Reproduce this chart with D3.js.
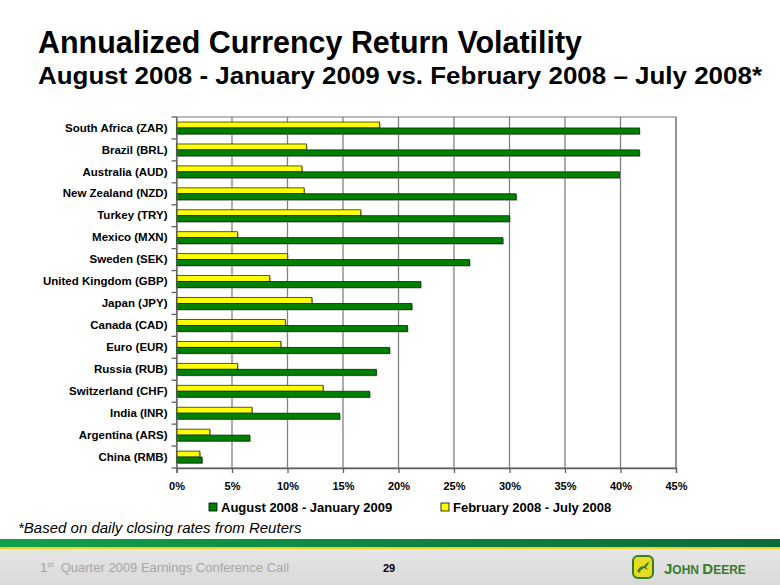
<!DOCTYPE html>
<html><head><meta charset="utf-8">
<script src="https://cdn.jsdelivr.net/npm/d3@7"></script>
<style>
html,body{margin:0;padding:0;background:#fff;}
svg{display:block;}
</style></head>
<body>
<svg id="chart" width="780" height="585"></svg>
<script>
const categories = ["South Africa (ZAR)","Brazil (BRL)","Australia (AUD)","New Zealand (NZD)","Turkey (TRY)","Mexico (MXN)","Sweden (SEK)","United Kingdom (GBP)","Japan (JPY)","Canada (CAD)","Euro (EUR)","Russia (RUB)","Switzerland (CHF)","India (INR)","Argentina (ARS)","China (RMB)"];
const augJan = [41.7,41.7,39.9,30.6,30.0,29.4,26.4,22.0,21.2,20.8,19.2,18.0,17.4,14.7,6.6,2.3];
const febJul = [18.3,11.7,11.3,11.5,16.6,5.5,10.0,8.4,12.2,9.8,9.4,5.5,13.2,6.8,3.0,2.1];
const seriesNames = ["August 2008 - January 2009","February 2008 - July 2008"];
const xTicks = [0,5,10,15,20,25,30,35,40,45];

(function(){
const svg = d3.select("#chart");
const sans = "'Liberation Sans',Arial,Helvetica,sans-serif";

// Title
svg.append("text").attr("x",38).attr("y",53).attr("font-family",sans).attr("font-weight","bold")
  .attr("font-size",31).attr("fill","#000").attr("textLength",544).attr("lengthAdjust","spacingAndGlyphs")
  .text("Annualized Currency Return Volatility");
svg.append("text").attr("x",38).attr("y",83.5).attr("font-family",sans).attr("font-weight","bold")
  .attr("font-size",24.5).attr("fill","#000").attr("textLength",724).attr("lengthAdjust","spacingAndGlyphs")
  .text("August 2008 - January 2009 vs. February 2008 \u2013 July 2008*");

// Scales
const pL=176.5, pR=676, pT=117, pB=468;
const x = d3.scaleLinear().domain([0,45]).range([pL,pR]);
const y = d3.scaleBand().domain(categories).range([pT,pB]).padding(0);
const inner = d3.scaleBand().domain(["feb","aug"]).range([0,y.bandwidth()]).paddingInner(0).paddingOuter(0.85);

const g = svg.append("g");
g.append("rect").attr("x",pL).attr("y",pT).attr("width",pR-pL).attr("height",pB-pT)
  .attr("fill","none").attr("stroke","#8c8c8c").attr("stroke-width",1.2);
g.selectAll("line.grid").data(xTicks.slice(1)).join("line").attr("class","grid")
  .attr("x1",d=>x(d)).attr("x2",d=>x(d)).attr("y1",pT).attr("y2",pB)
  .attr("stroke","#808080").attr("stroke-width",1.3);

const rows = categories.map((c,i)=>({c, aug:augJan[i], feb:febJul[i]}));
const rg = g.selectAll("g.row").data(rows).join("g").attr("class","row")
  .attr("transform",d=>`translate(0,${y(d.c)})`);
rg.append("rect").attr("x",pL+1).attr("y",inner("feb")+1).attr("width",d=>x(d.feb)-pL).attr("height",inner.bandwidth()).attr("fill","#9a9a9a");
rg.append("rect").attr("x",pL+1).attr("y",inner("aug")+1).attr("width",d=>x(d.aug)-pL).attr("height",inner.bandwidth()).attr("fill","#9a9a9a");
rg.append("rect").attr("x",pL).attr("y",inner("feb")).attr("width",d=>x(d.feb)-pL).attr("height",inner.bandwidth())
  .attr("fill","#ffff00").attr("stroke","#333300").attr("stroke-width",0.8);
rg.append("rect").attr("x",pL).attr("y",inner("aug")).attr("width",d=>x(d.aug)-pL).attr("height",inner.bandwidth())
  .attr("fill","#008000").attr("stroke","#003300").attr("stroke-width",0.8);

const xAxis = d3.axisBottom(x).tickValues(xTicks).tickFormat(d=>d+"%").tickSize(5).tickPadding(9);
const xa = svg.append("g").attr("transform",`translate(0,${pB})`).call(xAxis);
xa.select(".domain").attr("stroke","#606060").attr("stroke-width",1.3);
xa.selectAll(".tick line").attr("stroke","#606060").attr("stroke-width",1.3);
xa.selectAll("text").attr("font-family",sans).attr("font-weight","bold").attr("font-size",11).attr("fill","#000");

const ya = svg.append("g").attr("transform",`translate(${pL},0)`).call(d3.axisLeft(y).tickSize(0).tickPadding(9));
ya.select(".domain").attr("stroke","#606060").attr("stroke-width",1.3);
ya.selectAll("text").attr("font-family",sans).attr("font-weight","bold").attr("font-size",11.5).attr("fill","#000");
svg.append("g").selectAll("line").data(d3.range(categories.length+1)).join("line")
  .attr("x1",pL-5).attr("x2",pL).attr("y1",i=>pT+i*y.step()).attr("y2",i=>pT+i*y.step())
  .attr("stroke","#606060").attr("stroke-width",1.3);

const legend = [{name:seriesNames[0],color:"#008000",x:209},{name:seriesNames[1],color:"#ffff00",x:441}];
const lg = svg.append("g").selectAll("g").data(legend).join("g").attr("transform",d=>`translate(${d.x},503)`);
lg.append("rect").attr("width",8).attr("height",8).attr("fill",d=>d.color).attr("stroke","#000").attr("stroke-width",0.8);
lg.append("text").attr("x",12).attr("y",8.5).attr("font-family",sans).attr("font-weight","bold").attr("font-size",13).text(d=>d.name);

svg.append("text").attr("x",18).attr("y",533).attr("font-family",sans).attr("font-style","italic")
  .attr("font-size",15).attr("fill","#000").text("*Based on daily closing rates from Reuters");

const defs = svg.append("defs");
const gg = defs.append("linearGradient").attr("id","gstripe").attr("x1",0).attr("x2",1);
gg.append("stop").attr("offset","0").attr("stop-color","#12a04c");
gg.append("stop").attr("offset","1").attr("stop-color","#0b6a3a");
const fg = defs.append("linearGradient").attr("id","gfoot").attr("x1",0).attr("x2",0).attr("y1",0).attr("y2",1);
fg.append("stop").attr("offset","0").attr("stop-color","#e6e6e6");
fg.append("stop").attr("offset","1").attr("stop-color","#d9d9d9");
svg.append("rect").attr("x",0).attr("y",549).attr("width",780).attr("height",36).attr("fill","url(#gfoot)");
svg.append("rect").attr("x",0).attr("y",539).attr("width",780).attr("height",8).attr("fill","url(#gstripe)");
svg.append("rect").attr("x",0).attr("y",547).attr("width",780).attr("height",2).attr("fill","#f2d21a");

const ft = svg.append("text").attr("x",40).attr("y",572).attr("font-family",sans).attr("font-size",13).attr("fill","#a6a6a6");
ft.append("tspan").text("1");
ft.append("tspan").attr("font-size",8).attr("dy",-5).text("st");
ft.append("tspan").attr("dy",5).text("\u00a0 Quarter 2009 Earnings Conference Call");
svg.append("text").attr("x",389).attr("y",572).attr("text-anchor","middle").attr("font-family",sans)
  .attr("font-weight","bold").attr("font-size",11).attr("fill","#000").text("29");

const logo = svg.append("g").attr("transform","translate(633,556)");
logo.append("rect").attr("width",20).attr("height",22).attr("rx",5).attr("fill","#e8dc20").attr("stroke","#367c2b").attr("stroke-width",2);
logo.append("path").attr("d","M4,15 L7,11 L11,10 L14,7 L16,5 L15,9 L13,11 L15,14 L13,13 L11,12 L8,14 L6,17 Z").attr("fill","#367c2b");
const jd = svg.append("text").attr("x",664).attr("y",574).attr("font-family",sans).attr("font-weight","bold").attr("fill","#367c2b").attr("font-size",15);
jd.append("tspan").text("J");
jd.append("tspan").attr("font-size",12).text("OHN ");
jd.append("tspan").text("D");
jd.append("tspan").attr("font-size",12).text("EERE");
})();
</script>
</body></html>
